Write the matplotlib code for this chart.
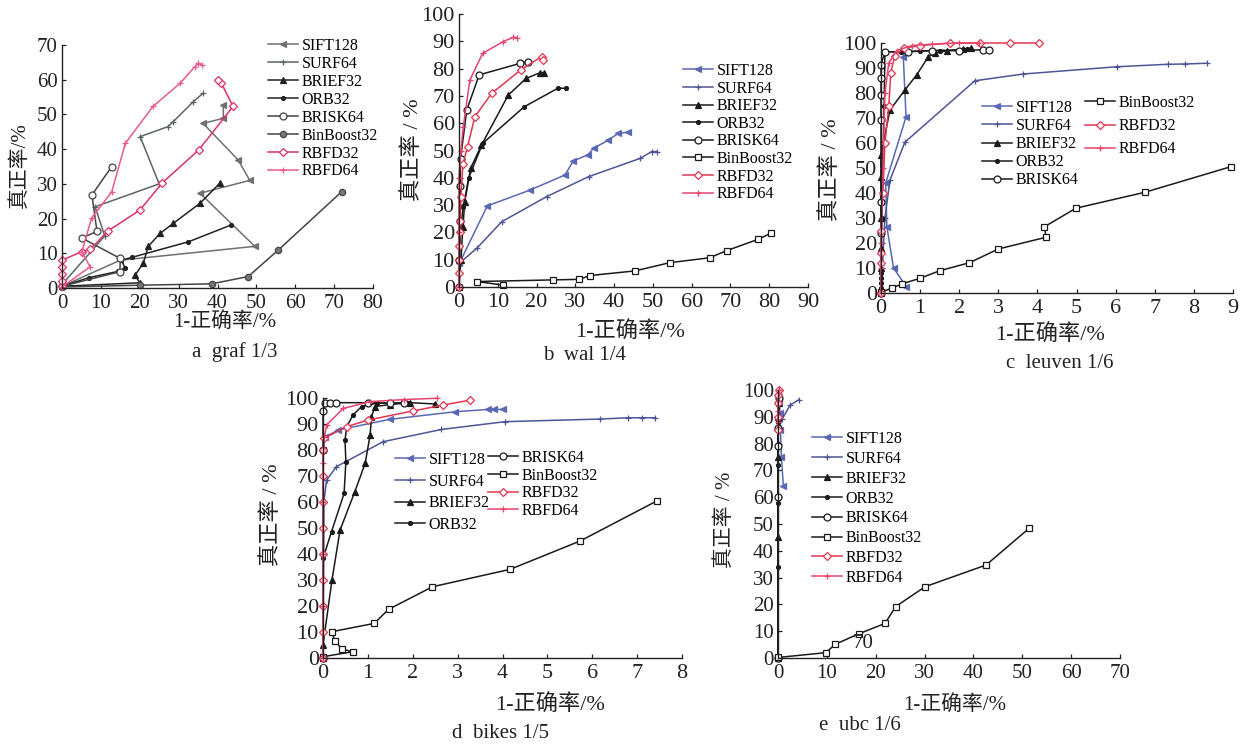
import matplotlib
matplotlib.use("Agg")
import matplotlib.pyplot as plt

W, H = 1249, 744
SERIF = ['Liberation Serif', 'Noto Sans CJK SC']
plt.rcParams['font.family'] = SERIF
plt.rcParams['axes.unicode_minus'] = False

names = ["SIFT128", "SURF64", "BRIEF32", "ORB32", "BRISK64", "BinBoost32", "RBFD32", "RBFD64"]

# ---------------- panel a: graf 1/3 ----------------
a_SIFT128 = [(0, 0.5), (15, 8), (49.6, 12), (35.5, 27.3), (48.3, 31), (45.3, 36.9), (36.3, 47.4), (41.5, 48.9), (41.5, 52.7)]
a_SURF64 = [(0, 1), (11, 15), (8.5, 23.4), (25, 30), (20.1, 43.6), (27.3, 46.5), (28.6, 47.9), (33.8, 53.7), (36.3, 56.1)]
a_BRIEF32 = [(0, 0.5), (20, 1.5), (18.8, 3.7), (20.9, 7.1), (22.2, 12), (25.2, 15.7), (28.6, 18.6), (35.5, 24.4), (40.6, 30.2)]
a_ORB32 = [(0, 0.5), (7, 3), (14.5, 4.8), (16.2, 5.8), (15.3, 8), (17.9, 8.8), (32.5, 13.3), (43.6, 18.2)]
a_BRISK64 = [(0, 0.5), (14.9, 4.7), (15, 8.5), (5.1, 14.4), (9, 16.3), (7.7, 26.8), (12.8, 35)]
a_BinBoost32 = [(0, 0.3), (20, 0.8), (38.5, 1.2), (47.9, 3.3), (55.6, 10.9), (71.9, 27.7)]
a_RBFD32 = [(0, 0.5), (0, 2), (0, 4), (0, 6), (0, 8), (5.1, 10.5), (7.2, 11.1), (11.9, 16.5), (20.1, 22.5), (25.7, 30.2), (35.2, 39.8), (44, 52.3), (41, 59), (40.2, 60)]
a_RBFD64 = [(0, 0.3), (7.2, 6.1), (5.1, 10.5), (7.6, 20.1), (12.8, 27.7), (16.3, 41.7), (23.4, 52.3), (30.4, 59), (34.2, 63.8), (35.1, 64.7), (36, 64.2)]

# ---------------- panel b: wal 1/4 ----------------
b_SIFT128 = [(0, 0), (0.1, 8.7), (7.3, 29.7), (18.3, 35.5), (27.3, 41), (29.5, 46.2), (33.2, 48.4), (34.7, 50.8), (38.5, 53.8), (41.1, 56.3), (43.7, 56.7)]
b_SURF64 = [(0, 0), (0.1, 8.7), (4.6, 14.2), (11, 23.9), (22.6, 33.1), (33.4, 40.4), (46.7, 47.1), (49.7, 49.6), (51, 49.6)]
b_BRIEF32 = [(0, 0), (0.5, 10), (1, 22), (1.5, 31.3), (3, 43.5), (5.8, 52), (12.7, 70.3), (17.3, 76.4), (20.9, 78.5), (21.8, 78.5)]
b_ORB32 = [(0, 0), (0.3, 20), (1.1, 29.4), (2.5, 40), (6.1, 52.6), (16.8, 66), (25.5, 72.8), (27.5, 72.8)]
b_BRISK64 = [(0, 0), (0, 10), (0.2, 24), (0.3, 37), (0.4, 47), (2, 64.8), (5.2, 77.7), (15.7, 81.9), (17.7, 82.5)]
b_BinBoost32 = [(11.4, 0.7), (4.6, 2), (24.3, 2.6), (31, 2.8), (33.8, 4.2), (45.4, 5.9), (54.3, 8.9), (64.6, 10.7), (69, 13.3), (77.2, 17.5), (80.4, 19.7)]
b_RBFD32 = [(0, 0), (0, 5), (0, 10), (0, 15), (0.2, 20), (0.3, 24), (0.5, 33), (1, 45), (2.2, 51.4), (4.1, 62.4), (8.4, 70.9), (15.9, 79.5), (21.3, 84.4), (21.6, 83.2)]
b_RBFD64 = [(0, 0), (0, 20), (0, 40), (0.5, 50), (1.1, 58.7), (2.8, 75.8), (6.1, 85.6), (11.4, 89.9), (14, 91.5), (14.9, 91.3)]

# ---------------- panel c: leuven 1/6 ----------------
c_SIFT128 = [(0.65, 2.5), (0.32, 10), (0.15, 26.5), (0.12, 44), (0.64, 70.5), (0.57, 94.5), (0.6, 96.5)]
c_SURF64 = [(0, 0), (0.1, 30), (0.23, 45.2), (0.61, 60.3), (2.4, 84.9), (3.64, 87.6), (6.03, 90.5), (7.35, 91.5), (7.77, 91.6), (8.33, 91.9)]
c_BRIEF32 = [(0, 0), (0, 10), (0, 18), (0, 30), (0, 46.5), (0, 55.3), (0.23, 73.2), (0.61, 81.2), (0.91, 87.2), (1.21, 94.5), (1.38, 95.9), (1.7, 97), (2.1, 97.5), (2.3, 98)]
c_ORB32 = [(0, 0), (0, 2), (0, 4), (0, 6), (0, 8), (0.02, 30), (0.08, 75), (0.1, 96.5), (0.5, 96.5), (1, 96.8), (1.5, 97), (2, 97), (2.2, 97.5)]
c_BRISK64 = [(0, 0), (0, 24), (0, 36.5), (0, 69.2), (0, 79.2), (0, 85.9), (0, 91.2), (0.1, 96.5), (0.7, 96.5), (1.3, 97), (2, 97), (2.6, 97.3), (2.75, 97.3)]
c_BinBoost32 = [(0, 0.3), (0.27, 1.9), (0.53, 3.6), (1, 5.9), (1.5, 8.9), (2.26, 12.1), (3, 17.6), (4.22, 22.3), (4.18, 26.5), (4.98, 33.9), (6.75, 40.3), (8.94, 50.5)]
c_RBFD32 = [(0, 0), (0, 12), (0, 16), (0, 25), (0.05, 40), (0.1, 60), (0.2, 75), (0.25, 88), (0.35, 95), (0.6, 98), (1, 99), (1.76, 100), (2.53, 100), (3.3, 100), (4.05, 100)]
c_RBFD64 = [(0, 0), (0, 10), (0, 20), (0.05, 50), (0.1, 80), (0.2, 92), (0.4, 97), (0.8, 99), (1.3, 99.5), (2, 100), (2.5, 100)]

# ---------------- panel d: bikes 1/5 ----------------
d_SIFT128 = [(0, 0), (0, 80), (0.05, 85), (0.34, 87.7), (1.49, 91.8), (2.94, 94.7), (3.68, 95.6), (3.8, 95.6), (4.02, 95.6)]
d_SURF64 = [(0, 0), (0.02, 60), (0.08, 68.5), (0.3, 73.6), (1.34, 83.2), (2.64, 87.9), (4.06, 90.9), (6.17, 91.9), (6.8, 92.4), (7.1, 92.4), (7.4, 92.4)]
d_BRIEF32 = [(0, 0), (0, 5), (0.2, 30), (0.38, 49.2), (0.71, 64), (0.94, 74.9), (1.05, 85.8), (1.08, 92.8), (1.16, 96.7), (1.5, 97.5), (1.94, 98.2), (2.5, 97.7)]
d_ORB32 = [(0, 0), (0, 20), (0, 38.3), (0.19, 48.6), (0.47, 63.3), (0.51, 75.5), (0.49, 83.8), (0.53, 89), (0.67, 93.5), (0.86, 96.7), (1.2, 98), (1.5, 98), (1.9, 98.2)]
d_BRISK64 = [(0, 0), (0, 80), (0, 95), (0.05, 98), (0.15, 98.2), (0.3, 98.2), (1, 98.2), (1.5, 98), (1.8, 98)]
d_BinBoost32 = [(0, 0.5), (0.66, 2.4), (0.42, 3.5), (0.27, 6.5), (0.19, 10.1), (1.14, 13.3), (1.46, 18.7), (2.44, 27.4), (4.17, 34.1), (5.73, 45), (7.45, 60.5)]
d_RBFD32 = [(0, 0), (0, 10), (0, 20), (0, 30), (0, 40), (0, 50), (0, 60), (0, 70), (0, 80), (0.02, 84.5), (0.53, 89), (1, 91.5), (2, 95), (2.68, 97.3), (3.28, 99.2)]
d_RBFD64 = [(0, 0), (0, 20), (0, 40), (0, 60), (0, 75), (0.03, 85), (0.08, 89.6), (0.45, 96), (1.05, 98.6), (1.8, 99.4), (2.53, 99.9)]

# ---------------- panel e: ubc 1/6 ----------------
e_SIFT128 = [(1.1, 64), (0.7, 75), (0.5, 85), (0.4, 91.3), (0.3, 96)]
e_SURF64 = [(0, 85), (0.8, 89), (2.5, 94.4), (4.2, 96.3)]
e_BRIEF32 = [(0, 0), (0, 45), (0, 75), (0, 80), (0, 90), (0.2, 95)]
e_ORB32 = [(0, 0), (0, 34), (0, 58), (0, 60), (0, 72), (0, 80), (0, 88), (0.2, 96)]
e_BRISK64 = [(0, 0), (0, 60), (0, 79), (0, 86), (0.2, 97)]
e_BinBoost32 = [(0, 0.2), (9.8, 2), (11.7, 5.1), (16.5, 9), (21.9, 12.9), (24.1, 19.2), (30.1, 26.6), (42.6, 34.7), (51.4, 48.4)]
e_RBFD32 = [(0, 85), (0, 90), (0, 95), (0.1, 98), (0.2, 100)]
e_RBFD64 = [(0, 88), (0, 92), (0, 96), (0.2, 99), (0.3, 100)]

# tick values
a_xticks = [0, 10, 20, 30, 40, 50, 60, 70, 80]
a_yticks = [0, 10, 20, 30, 40, 50, 60, 70]
b_xticks = [0, 10, 20, 30, 40, 50, 60, 70, 80, 90]
c_xticks = [0, 1, 2, 3, 4, 5, 6, 7, 8, 9]
d_xticks = [0, 1, 2, 3, 4, 5, 6, 7, 8]
e_xticks = [0, 10, 20, 30, 40, 50, 60, 70]
pct_yticks = [0, 10, 20, 30, 40, 50, 60, 70, 80, 90, 100]

# ---------------- styles ----------------
MK = {
    "SIFT128": dict(marker='<', ms=4.5),
    "SURF64": dict(marker='+', ms=4),
    "BRIEF32": dict(marker='^', ms=4.5),
    "ORB32": dict(marker='o', ms=2.8),
    "BRISK64": dict(marker='o', ms=5, mfc='white'),
    "BinBoost32": dict(marker='s', ms=5, mfc='white'),
    "RBFD32": dict(marker='D', ms=4, mfc='white'),
    "RBFD64": dict(marker='+', ms=4),
}
COL_A = {"SIFT128": "#707070", "SURF64": "#5c6660", "BRIEF32": "#222222", "ORB32": "#222222",
         "BRISK64": "#444444", "BinBoost32": "#444444", "RBFD32": "#e0306a", "RBFD64": "#ea5a8c"}
COL = {"SIFT128": "#5a68b4", "SURF64": "#4d5596", "BRIEF32": "#1a1a1a", "ORB32": "#1a1a1a",
       "BRISK64": "#1a1a1a", "BinBoost32": "#1a1a1a", "RBFD32": "#e2354f", "RBFD64": "#e8446e"}

fig = plt.figure(figsize=(W / 100, H / 100), dpi=100)
fig.patch.set_facecolor('white')


def make_axes(x0, y0, x1, y1):
    return fig.add_axes([x0 / W, 1 - y0 / H, (x1 - x0) / W, (y0 - y1) / H])


def style_axes(ax, xticks, yticks, fs):
    ax.set_xlim(xticks[0], xticks[-1])
    ax.set_ylim(yticks[0], yticks[-1])
    ax.set_xticks(xticks)
    ax.set_yticks(yticks)
    for s in ('top', 'right'):
        ax.spines[s].set_visible(False)
    for s in ('left', 'bottom'):
        ax.spines[s].set_linewidth(1.0)
        ax.spines[s].set_color('#222222')
    ax.tick_params(direction='in', length=3, width=0.9, labelsize=fs, colors='#222222')
    ax.tick_params(axis='x', pad=4)
    ax.tick_params(axis='y', pad=3)
    for lab in ax.get_xticklabels() + ax.get_yticklabels():
        lab.set_family(SERIF)


def draw(ax, series, colors, special=None):
    handles = []
    for name, pts in zip(names, series):
        xs = [p[0] for p in pts]
        ys = [p[1] for p in pts]
        st = dict(MK[name])
        if special and name in special:
            st.update(special[name])
        c = colors[name]
        kw = dict(color=c, lw=1.1, mec=c, mew=0.9, clip_on=False)
        if 'mfc' not in st:
            st['mfc'] = c
        ln, = ax.plot(xs, ys, label=name, **kw, **st)
        handles.append(ln)
    return handles


def legend(handles, labels, x, y, spacing):
    lg = fig.legend(handles, labels, loc='upper left', bbox_to_anchor=(x / W, 1 - y / H),
                    frameon=False, prop=dict(family=SERIF, size=11.5), handlelength=1.9,
                    handletextpad=0.2, labelspacing=spacing, borderpad=0, borderaxespad=0)
    return lg


def labels(ax, xl, yl, xlp, ylp, fs=15):
    fig.text(xlp[0] / W, 1 - xlp[1] / H, xl, ha='center', va='center', fontsize=fs, family=SERIF, color='#222222')
    fig.text(ylp[0] / W, 1 - ylp[1] / H, yl, ha='center', va='center', fontsize=fs, family=SERIF,
             rotation=90, color='#222222')


# panel a
axa = make_axes(62, 288, 373, 45)
style_axes(axa, a_xticks, a_yticks, 15)
ha = draw(axa, [a_SIFT128, a_SURF64, a_BRIEF32, a_ORB32, a_BRISK64, a_BinBoost32, a_RBFD32, a_RBFD64], COL_A,
          special={"BinBoost32": dict(marker='o', ms=4.5, mfc='#777777'), "RBFD32": dict(marker='D', ms=4)})
legend(ha, names, 268, 38, 0.12)
labels(axa, "1-正确率/%", "真正率/%", (225, 322), (20, 165))
fig.text(235 / W, 1 - 352 / H, "a  graf 1/3", ha='center', va='center', fontsize=15, family=SERIF, color='#222222')

# panel b
axb = make_axes(459, 287, 808, 14)
style_axes(axb, b_xticks, pct_yticks, 16)
hb = draw(axb, [b_SIFT128, b_SURF64, b_BRIEF32, b_ORB32, b_BRISK64, b_BinBoost32, b_RBFD32, b_RBFD64], COL)
legend(hb, names, 683, 63, 0.1)
labels(axb, "1-正确率/%", "真正率 / %", (630, 332), (413, 150), fs=16)
fig.text(585 / W, 1 - 355 / H, "b  wal 1/4", ha='center', va='center', fontsize=15, family=SERIF, color='#222222')

# panel c
axc = make_axes(881, 293, 1233, 43)
style_axes(axc, c_xticks, pct_yticks, 16)
hc = draw(axc, [c_SIFT128, c_SURF64, c_BRIEF32, c_ORB32, c_BRISK64, c_BinBoost32, c_RBFD32, c_RBFD64], COL)
legend(hc[:5], names[:5], 982, 100, 0.13)
legend(hc[5:], names[5:], 1085, 95, 0.45)
labels(axc, "1-正确率/%", "真正率 / %", (1050, 335), (831, 170), fs=16)
fig.text(1060 / W, 1 - 364 / H, "c  leuven 1/6", ha='center', va='center', fontsize=15, family=SERIF, color='#222222')

# panel d
axd = make_axes(323, 658, 682, 398)
style_axes(axd, d_xticks, pct_yticks, 16)
hd = draw(axd, [d_SIFT128, d_SURF64, d_BRIEF32, d_ORB32, d_BRISK64, d_BinBoost32, d_RBFD32, d_RBFD64], COL)
legend(hd[:4], names[:4], 395, 452, 0.35)
legend(hd[4:], names[4:], 488, 450, 0.1)
labels(axd, "1-正确率/%", "真正率 / %", (550, 705), (272, 515), fs=16)
fig.text(500 / W, 1 - 733 / H, "d  bikes 1/5", ha='center', va='center', fontsize=15, family=SERIF, color='#222222')

# panel e
axe = make_axes(778, 658, 1120, 390)
style_axes(axe, e_xticks, pct_yticks, 15)
he = draw(axe, [e_SIFT128, e_SURF64, e_BRIEF32, e_ORB32, e_BRISK64, e_BinBoost32, e_RBFD32, e_RBFD64], COL)
legend(he, names, 812, 431, 0.24)
labels(axe, "1-正确率/%", "真正率 / %", (955, 705), (725, 520), fs=15)
fig.text(863 / W, 1 - 643 / H, "70", ha='center', va='center', fontsize=15, family=SERIF, color='#222222')
fig.text(860 / W, 1 - 726 / H, "e  ubc 1/6", ha='center', va='center', fontsize=15, family=SERIF, color='#222222')

fig.savefig("out.png", dpi=100, facecolor='white')
